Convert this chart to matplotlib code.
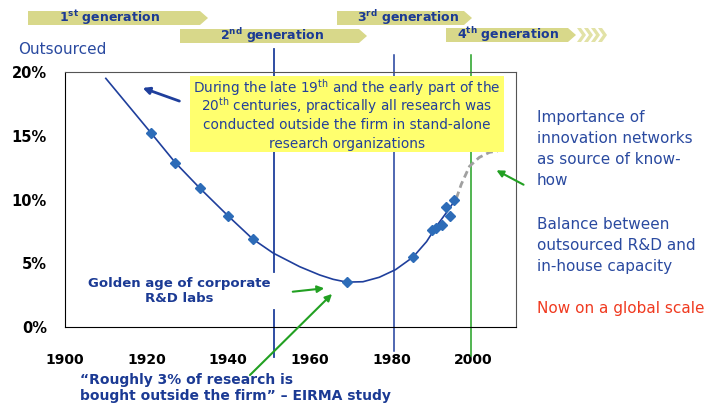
import matplotlib.pyplot as plt
from matplotlib.patches import Polygon, Rectangle, FancyArrowPatch

plt.rcParams['mathtext.fontset'] = 'dejavusans'

# trend line (share of research bought outside the firm, %)
trend_years = [1910, 1921, 1927, 1933, 1940, 1946, 1951, 1957.5, 1962.4,
               1965.7, 1969, 1973, 1977, 1981, 1985.3, 1988.6, 1991, 1993.4, 1995.9]
trend_values = [19.5, 15.25, 12.9, 10.9, 8.7, 6.9, 5.8, 4.73, 4.08,
                3.74, 3.52, 3.55, 3.9, 4.5, 5.49, 6.7, 7.9, 8.95, 10.1]

# observed points (diamonds)
obs_years = [1921, 1927, 1933, 1940, 1946, 1969, 1985.3, 1990, 1991, 1992.3, 1993.4, 1994.4, 1995.4]
obs_values = [15.25, 12.9, 10.9, 8.7, 6.9, 3.52, 5.49, 7.6, 7.8, 8.0, 9.4, 8.7, 10.0]

# projected part (dashed)
proj_years = [1995.9, 1997.1, 1999.1, 2001.5, 2004, 2006]
proj_values = [10.1, 11.2, 12.6, 13.3, 13.7, 13.8]

# generation boundaries
gen_lines = [1951.2, 1980.5, 1999.4]

x_ticks = [1900, 1920, 1940, 1960, 1980, 2000]
y_ticks = [0, 5, 10, 15, 20]

note_lines = ['During the late 19$^{\\mathrm{th}}$ and the early part of the',
              '20$^{\\mathrm{th}}$ centuries, practically all research was',
              'conducted outside the firm in stand-alone',
              'research organizations']

W, H = 710, 407
BLUE = '#1f3f9c'
TXT = '#2a4aa0'
GREEN = '#22a022'
KHAKI = '#d8d88a'


def fx(x):
    return x / W


def fy(y):
    return 1 - y / H


fig = plt.figure(figsize=(7.1, 4.07), dpi=100)
ax = fig.add_axes([fx(65), fy(327), fx(516) - fx(65), fy(72) - fy(327)])

ax.plot(trend_years, trend_values, color=BLUE, lw=1.2, zorder=3)
ax.plot(proj_years, proj_values, color='#a0a0a0', lw=2, ls=(0, (2.5, 1.5)), zorder=3)
ax.plot(obs_years, obs_values, ls='none', marker='D', ms=5, color='#2d6cb8', zorder=4)

# vertical generation lines, extending outside the axes
ax.plot([gen_lines[0]] * 2, [21.8, 4.31], color=BLUE, lw=1.3, clip_on=False)
ax.plot([gen_lines[0]] * 2, [1.33, -2.35], color=BLUE, lw=1.3, clip_on=False)
ax.plot([gen_lines[1]] * 2, [21.3, -1.9], color=BLUE, lw=1.1, clip_on=False)
ax.plot([gen_lines[2]] * 2, [21.3, -2.3], color=GREEN, lw=1.1, clip_on=False)

ax.set_xlim(1900, 2010.5)
ax.set_ylim(0, 20)
ax.set_xticks(x_ticks)
ax.set_xticklabels([str(t) for t in x_ticks], fontsize=10, fontweight='bold')
ax.set_yticks(y_ticks)
ax.set_yticklabels([f'{t}%' for t in y_ticks], fontsize=10.5, fontweight='bold')
ax.tick_params(axis='x', length=0, pad=19)
ax.tick_params(axis='y', length=0, pad=13)
for side in ['top', 'right']:
    ax.spines[side].set_color('#555555')
for side in ['left', 'bottom']:
    ax.spines[side].set_color('black')

# generation banners
def banner(x0, x1, y0, y1, label, tx):
    pts = [(x0, y0), (x1 - 8, y0), (x1, (y0 + y1) / 2), (x1 - 8, y1), (x0, y1)]
    fig.add_artist(Polygon([(fx(a), fy(b)) for a, b in pts], closed=True,
                           transform=fig.transFigure, color=KHAKI, lw=0))
    fig.text(fx(tx), fy((y0 + y1) / 2), label, ha='center', va='center',
             fontsize=9, fontweight='bold', color='#1b3a94')


banner(28, 208, 11, 25, r'$\mathbf{1^{st}}$ generation', 110)
banner(180, 367, 29, 43, r'$\mathbf{2^{nd}}$ generation', 272)
banner(337, 472, 11, 25, r'$\mathbf{3^{rd}}$ generation', 408)
banner(446, 576, 28, 42, r'$\mathbf{4^{th}}$ generation', 508)
for i in range(4):
    c0 = 577 + i * 7
    pts = [(c0, 28), (c0 + 4, 28), (c0 + 9, 35), (c0 + 4, 42), (c0, 42), (c0 + 5, 35)]
    fig.add_artist(Polygon([(fx(a), fy(b)) for a, b in pts], closed=True,
                           transform=fig.transFigure, color='#e2e2a6', lw=0))

fig.text(fx(18), fy(50), 'Outsourced', fontsize=11, color=TXT, va='center')

# yellow note box
fig.add_artist(Rectangle((fx(190), fy(152)), fx(504) - fx(190), fy(76) - fy(152),
                         transform=fig.transFigure, color='#ffff6e', lw=0, zorder=5))
for line, ly in zip(note_lines, [88, 106, 125, 144]):
    fig.text(fx(347), fy(ly), line, ha='center', va='center', fontsize=9.8,
             color='#23409a', zorder=6)

fig.text(fx(179), fy(291), 'Golden age of corporate\nR&D labs', ha='center', va='center',
         fontsize=9.5, fontweight='bold', color='#1b3a94', linespacing=1.3)
fig.text(fx(80), fy(388), '\u201cRoughly 3% of research is\nbought outside the firm\u201d \u2013 EIRMA study',
         ha='left', va='center', fontsize=10, fontweight='bold', color='#1b3a94',
         linespacing=1.25)

fig.text(fx(537), fy(149), 'Importance of\ninnovation networks\nas source of know-\nhow',
         ha='left', va='center', fontsize=11, color=TXT, linespacing=1.5)
fig.text(fx(537), fy(245), 'Balance between\noutsourced R&D and\nin-house capacity',
         ha='left', va='center', fontsize=11, color=TXT, linespacing=1.5)
fig.text(fx(537), fy(308), 'Now on a global scale', ha='left', va='center',
         fontsize=11, color='#f03a20')

# arrows
def arrow(p0, p1, color, lw=1.5):
    fig.add_artist(FancyArrowPatch((fx(p0[0]), fy(p0[1])), (fx(p1[0]), fy(p1[1])),
                                   transform=fig.transFigure, arrowstyle='-|>',
                                   mutation_scale=10, color=color, lw=lw, zorder=7))


arrow((182, 102), (140, 87), BLUE, lw=2)
arrow((290, 292), (327, 288), GREEN)
arrow((248, 377), (334, 292), GREEN)
arrow((526, 186), (494, 169), GREEN)

fig.savefig('out.png', dpi=100)
